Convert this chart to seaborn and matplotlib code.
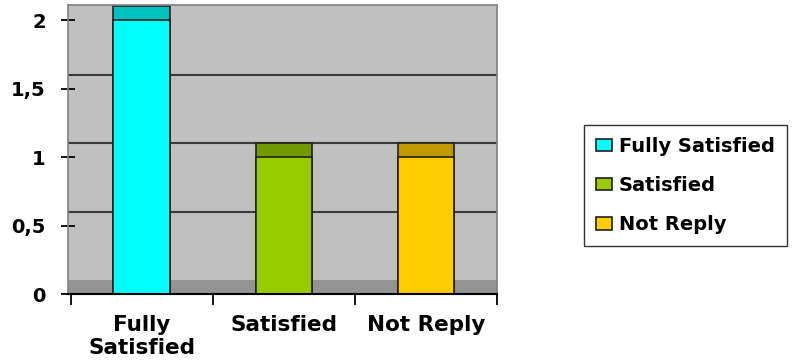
import seaborn as sns
import matplotlib.pyplot as plt
import pandas as pd
from matplotlib.patches import Patch

categories = ['Fully Satisfied', 'Satisfied', 'Not Reply']
tick_labels = ['Fully\nSatisfied', 'Satisfied', 'Not Reply']
values = [2, 1, 1]
front_colors = ['#00FFFF', '#99CC00', '#FFCC00']
top_colors = ['#00C0C0', '#739A00', '#C09A00']
y_ticks = [0, 0.5, 1, 1.5, 2]
y_tick_labels = ['0', '0,5', '1', '1,5', '2']

DEPTH = 0.1  # fake 3d depth, in data units


def setup_style():
    sns.set_style("white")
    plt.rcParams['font.family'] = ['DejaVu Sans']
    plt.rcParams['font.weight'] = 'bold'
    plt.rcParams['text.color'] = 'black'
    plt.rcParams['xtick.color'] = 'black'
    plt.rcParams['ytick.color'] = 'black'
    plt.rcParams['xtick.labelcolor'] = 'black'
    plt.rcParams['ytick.labelcolor'] = 'black'


def plot_chart():
    setup_style()
    df = pd.DataFrame({'cat': categories, 'val': values})
    df['top'] = df['val'] + DEPTH

    fig = plt.figure(figsize=(8, 3.63), dpi=100)
    ax = fig.add_axes([68 / 800, 1 - 294 / 363, 429 / 800, 289 / 363])
    ax.set_facecolor('#C0C0C0')

    # floor + back wall gridlines
    ax.axhspan(0, DEPTH, color='#939393', zorder=0.3, lw=0)
    for t in y_ticks[1:-1]:
        ax.axhline(t + DEPTH, color='#3a3a3a', lw=1.5, zorder=0.5)

    # top face of bars, then front face on top
    sns.barplot(data=df, x='cat', y='top', hue='cat', order=categories,
                hue_order=categories, palette=top_colors, width=0.4,
                dodge=False, legend=False, edgecolor='#202020', linewidth=1.2,
                saturation=1, ax=ax)
    sns.barplot(data=df, x='cat', y='val', hue='cat', order=categories,
                hue_order=categories, palette=front_colors, width=0.4,
                dodge=False, legend=False, edgecolor='#202020', linewidth=1.2,
                saturation=1, ax=ax)

    ax.set_xlim(-0.52, 2.5)
    ax.set_ylim(0, 2.11)
    ax.set_xlabel('')
    ax.set_ylabel('')

    ax.set_yticks(y_ticks)
    ax.set_yticklabels(y_tick_labels, fontsize=14, fontweight='bold', color='black')
    ax.tick_params(axis='y', direction='inout', length=10, width=1.3,
                   color='black', pad=11, left=True)

    ax.set_xticks([-0.5, 0.5, 1.5, 2.5])
    ax.set_xticklabels([])
    ax.set_xticks(range(len(categories)), minor=True)
    ax.set_xticklabels(tick_labels, minor=True, fontsize=15.5,
                       fontweight='bold', color='black')
    ax.tick_params(axis='x', which='major', direction='out', length=8,
                   width=1.3, color='black', bottom=True)
    ax.tick_params(axis='x', which='minor', length=0, pad=15)

    for side in ['left', 'top', 'right']:
        ax.spines[side].set_color('#808080')
        ax.spines[side].set_linewidth(1.2)
    ax.spines['bottom'].set_color('black')
    ax.spines['bottom'].set_linewidth(1.5)

    handles = [Patch(facecolor=c, edgecolor='#202020', lw=1.2) for c in front_colors]
    leg = fig.legend(handles, categories, loc='center left',
                     bbox_to_anchor=(584 / 800, 1 - 185.5 / 363),
                     frameon=True, fancybox=False, edgecolor='black',
                     prop={'size': 14, 'weight': 'bold'}, labelcolor='black',
                     handlelength=0.85, handleheight=0.6, handletextpad=0.35,
                     labelspacing=1.05, borderpad=0.6, borderaxespad=0)
    leg.get_frame().set_linewidth(1.0)

    fig.savefig('out.png', dpi=100)
    plt.close(fig)


plot_chart()
